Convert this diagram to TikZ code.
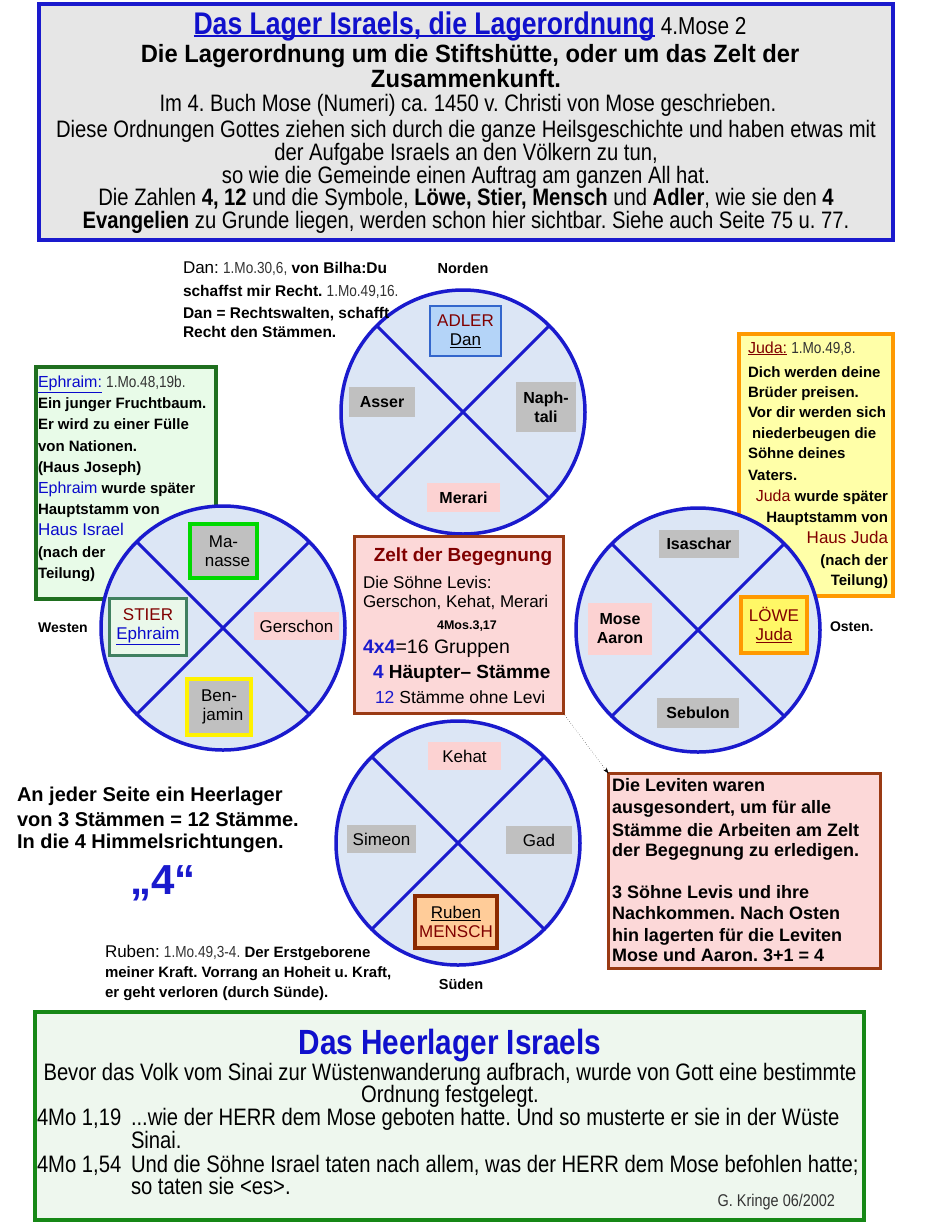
\documentclass[tikz,border=0pt]{standalone}
\usepackage{fontspec}
\setmainfont{Liberation Sans}
\newfontfamily\cond[FakeStretch=0.85]{Liberation Sans}
\newfontfamily\condw[FakeStretch=0.95]{Liberation Sans}
\newfontfamily\thinf[FakeStretch=0.85]{Liberation Sans}
\usetikzlibrary{arrows.meta}
\frenchspacing
\newcommand\fsz[1]{\fontsize{#1}{#1}\selectfont}
\newcommand\ulin[1]{\setbox0\hbox{#1}\rlap{\rule[-0.09em]{\wd0}{0.055em}}\box0}
\definecolor{cbl}{HTML}{1A1ACD}
\definecolor{tblue}{HTML}{1010CC}
\definecolor{eblue}{HTML}{0A0ACC}
\definecolor{dred}{HTML}{800000}
\definecolor{tgray}{HTML}{C0C0C0}
\definecolor{lpink}{HTML}{FCD2D2}
\definecolor{cfill}{HTML}{DCE6F5}
\definecolor{topfill}{HTML}{E6E6E6}
\definecolor{botfill}{HTML}{EEF7EE}
\definecolor{ephfill}{HTML}{E8FBE8}
\definecolor{ephdraw}{HTML}{1F6F1F}
\definecolor{judafill}{HTML}{FFFFA8}
\definecolor{orng}{HTML}{FF9900}
\definecolor{adfill}{HTML}{B4D4F8}
\definecolor{addraw}{HTML}{3366CC}
\definecolor{stierfill}{HTML}{EAF8EA}
\definecolor{stierdraw}{HTML}{408060}
\definecolor{rubfill}{HTML}{FFCC99}
\definecolor{rubdraw}{HTML}{8B2A00}
\definecolor{zeltfill}{HTML}{FCD8D8}
\definecolor{brwn}{HTML}{9A3A14}
\definecolor{botdraw}{HTML}{168816}
\definecolor{refgray}{HTML}{333333}
\begin{document}
\frenchspacing
\begin{tikzpicture}[x=1pt,y=-1pt,
  every node/.style={inner sep=0pt, outer sep=0pt},
  tl/.style={anchor=base west},
  tc/.style={anchor=base},
  tr/.style={anchor=base east},
  sm/.style={font=\fsz{15}},
  camp/.style={circle, draw=cbl, line width=3.5pt, fill=cfill, minimum size=244pt},
  crossl/.style={draw=cbl, line width=3pt},
  lab/.style={align=center, font=\fontsize{17}{19}\selectfont},
  labb/.style={align=center, font=\bfseries\fontsize{16}{19}\selectfont},
  gbox/.style={lab, fill=tgray},
  pbox/.style={lab, fill=lpink},
  gboxb/.style={labb, fill=tgray},
  pboxb/.style={labb, fill=lpink},
  frame/.style={line width=4pt}
]
\useasboundingbox (0,0) rectangle (934,1224);
\fill[white] (0,0) rectangle (934,1224);

% ---------- top box ----------
\node[frame, draw=cbl, fill=topfill, minimum width=854pt, minimum height=236pt] (top) at (466,122) {};
\node[tc] (t1) at (470,34) {\cond\textcolor{tblue}{\bfseries\fsz{31.3}\ulin{Das Lager Israels, die Lagerordnung}}\hspace{6pt}\fsz{24.5}4.Mose 2};
\node[tc] (t2) at (470,62) {\condw\bfseries\fsz{25}Die Lagerordnung um die Stiftshütte, oder um das Zelt der};
\node[tc] (t3) at (466,87) {\condw\bfseries\fsz{25}Zusammenkunft.};
\node[tc] (t4) at (468,111) {\cond\fsz{23.8}Im 4. Buch Mose (Numeri) ca. 1450 v. Christi von Mose geschrieben.};
\node[tc] (t5) at (466,137) {\cond\fsz{23.8}Diese Ordnungen Gottes ziehen sich durch die ganze Heilsgeschichte und haben etwas mit};
\node[tc] (t6) at (466,160) {\cond\fsz{23.8}der Aufgabe Israels an den Völkern zu tun,};
\node[tc] (t7) at (466,183) {\cond\fsz{23.8}so wie die Gemeinde einen Auftrag am ganzen All hat.};
\node[tc] (t8) at (466,205) {\cond\fsz{23.8}Die Zahlen \textbf{4, 12} und die Symbole, \textbf{Löwe, Stier, Mensch} und \textbf{Adler}, wie sie den \textbf{4}};
\node[tc] (t9) at (466,228) {\cond\fsz{23.8}\textbf{Evangelien} zu Grunde liegen, werden schon hier sichtbar. Siehe auch Seite 75 u. 77.};

% ---------- side boxes ----------
\node[frame, draw=ephdraw, fill=ephfill, minimum width=180pt, minimum height=232pt] (eph) at (126,483) {};
\node[frame, draw=orng, fill=judafill, minimum width=154pt, minimum height=262pt] (juda) at (816,465) {};

% ---------- circles ----------
\node[camp] (cn) at (463,412) {};
\node[camp] (cw) at (223,628) {};
\node[camp] (ce) at (698,630) {};
\node[camp] (cs) at (458,843) {};
\foreach \c in {cn,cw,ce,cs}{
  \draw[crossl] (\c.135) -- (\c.-45);
  \draw[crossl] (\c.45) -- (\c.-135);
}

% north camp
\node[lab, fill=adfill, draw=addraw, line width=2pt, minimum width=71pt, minimum height=50pt] (adler) at (465.5,331) {\textcolor{dred}{ADLER}\\\underline{Dan}};
\node[gboxb, minimum width=66pt, minimum height=30pt] (asser) at (382,402) {Asser};
\node[gboxb, minimum width=60pt, minimum height=50pt] (naph) at (546,407) {Naph-\\tali};
\node[pboxb, minimum width=73pt, minimum height=29pt] (merari) at (463.5,497.5) {Merari};
% west camp
\node[gbox, draw=green!85!black, line width=4pt, minimum width=67pt, minimum height=54pt] (manasse) at (223.5,551) {Ma-\\\hspace*{8pt}nasse};
\node[lab, fill=stierfill, draw=stierdraw, line width=3pt, minimum width=77pt, minimum height=57pt] (stier) at (148,627) {\textcolor{dred}{STIER}\\\textcolor{eblue}{\underline{Ephraim}}};
\node[pbox, minimum width=85pt, minimum height=28pt] (gerschon) at (296.5,626) {Gerschon};
\node[gbox, draw=yellow, line width=4pt, minimum width=64pt, minimum height=56pt] (benjamin) at (219,707) {Ben-\\\hspace*{8pt}jamin};
% east camp
\node[gboxb, minimum width=80pt, minimum height=28pt] (isaschar) at (699,544) {Isaschar};
\node[pboxb, minimum width=64pt, minimum height=52pt] (mose) at (620,629) {Mose\\Aaron};
\node[lab, fill=yellow!60, draw=orng, line width=4pt, minimum width=66pt, minimum height=56pt] (loewe) at (774,625) {\textcolor{dred}{LÖWE}\\\textcolor{dred}{\underline{Juda}}};
\node[gboxb, minimum width=82pt, minimum height=30pt] (sebulon) at (698,713) {Sebulon};
% south camp
\node[pbox, minimum width=73pt, minimum height=28pt] (kehat) at (464.5,756) {Kehat};
\node[gbox, minimum width=69pt, minimum height=28pt] (simeon) at (381.5,839) {Simeon};
\node[gbox, minimum width=66pt, minimum height=28pt] (gad) at (539,840) {Gad};
\node[lab, fill=rubfill, draw=rubdraw, line width=4pt, minimum width=82pt, minimum height=52pt] (ruben) at (456,922) {\underline{Ruben}\\\textcolor{dred}{MENSCH}};

% directions
\node[tc, font=\bfseries\fsz{14.5}] (norden) at (463,273) {Norden};
\node[tc, font=\bfseries\fsz{14}] (westen) at (63,632) {Westen};
\node[tl, font=\bfseries\fsz{14}] (osten) at (830,631) {Osten.};
\node[tc, font=\bfseries\fsz{14.5}] (sueden) at (461,989) {Süden};

% ---------- Dan text ----------
\node[tl, sm] (d1) at (183,273) {{\fsz{17}Dan:} {\thinf\color{refgray}\fsz{16}1.Mo.30,6,} \textbf{\fsz{15.5}von Bilha:Du}};
\node[tl, sm] (d2) at (183,296) {\textbf{\fsz{15.5}schaffst mir Recht.} {\thinf\color{refgray}\fsz{16}1.Mo.49,16.}};
\node[tl, font=\bfseries\fsz{15.5}] (d3) at (183,318) {Dan = Rechtswalten, schafft};
\node[tl, font=\bfseries\fsz{15.5}] (d4) at (183,337) {Recht den Stämmen.};

% ---------- Ephraim text ----------
\node[tl, sm] (e1) at (38,387) {\textcolor{eblue}{\fsz{16}\underline{Ephraim:}} {\thinf\color{refgray}\fsz{16}1.Mo.48,19b.}};
\node[tl, font=\bfseries\fsz{15}] (e2) at (38,408) {Ein junger Fruchtbaum.};
\node[tl, font=\bfseries\fsz{15}] (e3) at (38,429) {Er wird zu einer Fülle};
\node[tl, font=\bfseries\fsz{15}] (e4) at (38,451) {von Nationen.};
\node[tl, font=\bfseries\fsz{15}] (e5) at (38,472) {(Haus Joseph)};
\node[tl, sm] (e6) at (38,493) {\textcolor{eblue}{\fsz{16}Ephraim} \textbf{wurde später}};
\node[tl, font=\bfseries\fsz{15}] (e7) at (38,514) {Hauptstamm von};
\node[tl, font=\fsz{17}] (e8) at (38,535) {\textcolor{eblue}{Haus Israel}};
\node[tl, font=\bfseries\fsz{15}] (e9) at (38,557) {(nach der};
\node[tl, font=\bfseries\fsz{15}] (e10) at (38,578) {Teilung)};

% ---------- Juda text ----------
\node[tl, sm] (j1) at (748,353) {\textcolor{dred}{\fsz{16}\underline{Juda:}} {\thinf\color{refgray}\fsz{16}1.Mo.49,8.}};
\node[tl, font=\bfseries\fsz{15}] (j2) at (748,377) {Dich werden deine};
\node[tl, font=\bfseries\fsz{15}] (j3) at (748,397) {Brüder preisen.};
\node[tl, font=\bfseries\fsz{15}] (j4) at (748,417) {Vor dir werden sich};
\node[tl, font=\bfseries\fsz{15}] (j5) at (752,438) {niederbeugen die};
\node[tl, font=\bfseries\fsz{15}] (j6) at (748,458) {Söhne deines};
\node[tl, font=\bfseries\fsz{15}] (j7) at (748,480) {Vaters.};
\node[tr, sm] (j8) at (888,501) {\textcolor{dred}{\fsz{16}Juda} \textbf{wurde später}};
\node[tr, font=\bfseries\fsz{15}] (j9) at (888,522) {Hauptstamm von};
\node[tr, font=\fsz{17}] (j10) at (888,543) {\textcolor{dred}{Haus Juda}};
\node[tr, font=\bfseries\fsz{15}] (j11) at (888,565) {(nach der};
\node[tr, font=\bfseries\fsz{15}] (j12) at (888,585) {Teilung)};

% ---------- Zelt box ----------
\node[draw=brwn, line width=3pt, fill=zeltfill, minimum width=209pt, minimum height=177pt] (zelt) at (459,625) {};
\node[tc, font=\bfseries\fsz{19}] (z1) at (463,561) {\textcolor{dred}{Zelt der Begegnung}};
\node[tl, font=\fsz{17}] (z2) at (363,588) {Die Söhne Levis:};
\node[tl, font=\fsz{17}] (z3) at (363,607) {Gerschon, Kehat, Merari};
\node[tc, font=\bfseries\fsz{12.5}] (z4) at (467,629) {4Mos.3,17};
\node[tl, font=\fsz{19.5}] (z5) at (363,653) {\textcolor{cbl}{\textbf{4x4}}=16 Gruppen};
\node[tl, font=\bfseries\fsz{19}] (z6) at (373,678) {\textcolor{cbl}{4} Häupter– Stämme};
\node[tl, font=\fsz{17.5}] (z7) at (375,703) {\textcolor{cbl}{12} Stämme ohne Levi};

% ---------- Leviten box ----------
\node[draw=brwn, line width=3pt, fill=zeltfill, minimum width=272pt, minimum height=195pt] (lev) at (744.5,871) {};
\node[tl, font=\bfseries\fsz{18}] (l1) at (612,791) {Die Leviten waren};
\node[tl, font=\bfseries\fsz{18}] (l2) at (612,813) {ausgesondert, um für alle};
\node[tl, font=\bfseries\fsz{18}] (l3) at (612,836) {Stämme die Arbeiten am Zelt};
\node[tl, font=\bfseries\fsz{18}] (l4) at (612,856) {der Begegnung zu erledigen.};
\node[tl, font=\bfseries\fsz{18}] (l5) at (612,898) {3 Söhne Levis und ihre};
\node[tl, font=\bfseries\fsz{18}] (l6) at (612,919) {Nachkommen. Nach Osten};
\node[tl, font=\bfseries\fsz{18}] (l7) at (612,941) {hin lagerten für die Leviten};
\node[tl, font=\bfseries\fsz{18}] (l8) at (612,961) {Mose und Aaron. 3+1 = 4};

\draw[dotted, thin, -{Stealth[length=6pt,width=4pt]}] (zelt.south east) -- (lev.north west);

% ---------- left text ----------
\node[tl, font=\bfseries\fsz{20}] (a1) at (17,801) {An jeder Seite ein Heerlager};
\node[tl, font=\bfseries\fsz{20}] (a2) at (17,826) {von 3 Stämmen = 12 Stämme.};
\node[tl, font=\bfseries\fsz{20}] (a3) at (17,848) {In die 4 Himmelsrichtungen.};
\node[tc, font=\bfseries\fsz{42}] (four) at (163,894) {\textcolor{cbl}{„4“}};

% ---------- Ruben text ----------
\node[tl, sm] (r1) at (105,957) {{\fsz{17}Ruben:} {\thinf\color{refgray}\fsz{16}1.Mo.49,3-4.} \textbf{Der Erstgeborene}};
\node[tl, font=\bfseries\fsz{15}] (r2) at (105,977) {meiner Kraft. Vorrang an Hoheit u. Kraft,};
\node[tl, font=\bfseries\fsz{15}] (r3) at (105,997) {er geht verloren (durch Sünde).};

% ---------- bottom box ----------
\node[frame, draw=botdraw, fill=botfill, minimum width=829pt, minimum height=208pt] (bot) at (449.5,1116) {};
\node[tc] (b1) at (450,1054) {\cond\bfseries\fsz{35}\textcolor{tblue}{Das Heerlager Israels}};
\node[tc] (b2) at (450,1080) {\cond\fsz{23.8}Bevor das Volk vom Sinai zur Wüstenwanderung aufbrach, wurde von Gott eine bestimmte};
\node[tc] (b3) at (450,1102) {\cond\fsz{23.8}Ordnung festgelegt.};
\node[tl] (b4) at (37,1125) {\cond\fsz{23.8}4Mo 1,19};
\node[tl] (b5) at (131,1125) {\cond\fsz{23.8}...wie der HERR dem Mose geboten hatte. Und so musterte er sie in der Wüste};
\node[tl] (b6) at (131,1148) {\cond\fsz{23.8}Sinai.};
\node[tl] (b7) at (37,1172) {\cond\fsz{23.8}4Mo 1,54};
\node[tl] (b8) at (131,1172) {\cond\fsz{23.8}Und die Söhne Israel taten nach allem, was der HERR dem Mose befohlen hatte;};
\node[tl] (b9) at (131,1194) {\cond\fsz{23.8}so taten sie <es>.};
\node[tr] (b10) at (835,1206) {\thinf\fsz{17}\color{refgray}G. Kringe 06/2002};
\end{tikzpicture}
\end{document}
